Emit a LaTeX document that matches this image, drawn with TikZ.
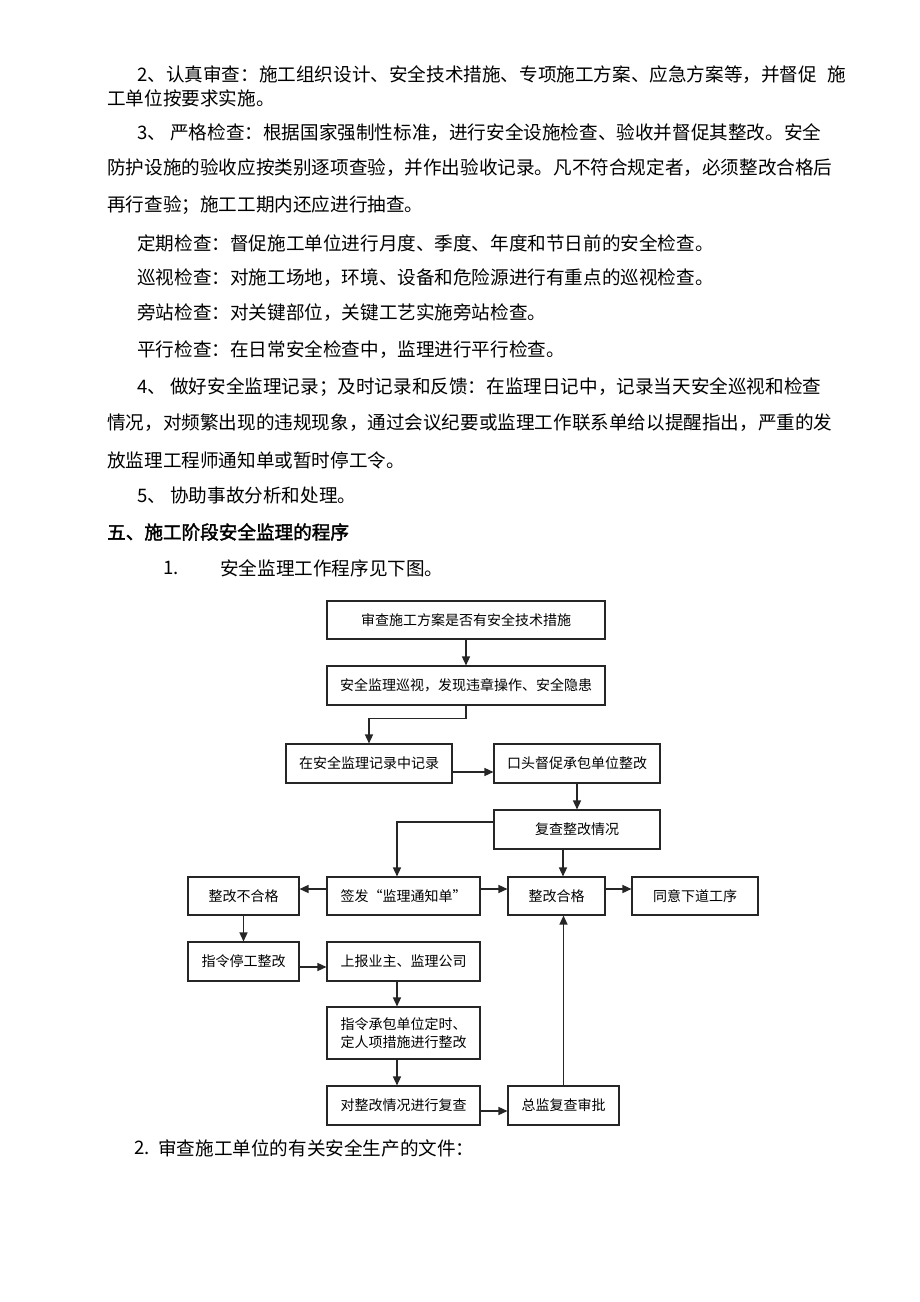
\documentclass[tikz,border=0pt]{standalone}
\usepackage{fontspec}
\setmainfont{Noto Sans CJK SC}[AutoFakeBold=2]
\usetikzlibrary{arrows.meta}
\XeTeXlinebreaklocale "zh"
\XeTeXlinebreakskip=0pt plus 2pt
\begin{document}
\begin{tikzpicture}[x=1pt,y=-1pt,
  bx/.style={draw=black!85, line width=1.1pt, inner sep=0pt, font=\fontsize{14}{18.3}\selectfont, align=center},
  arr/.style={draw=black!85, line width=1.4pt, -{Triangle[length=9pt,width=8pt]}},
  ln/.style={anchor=west, inner sep=0pt, font=\fontsize{18.6}{22}\selectfont}]
\useasboundingbox (0,0) rectangle (920,1302);
\fill[white] (0,0) rectangle (920,1302);

% body text
\node[ln] (t1) at (137,75) {\hbox to 709pt{2、认真审查：施工组织设计、安全技术措施、专项施工方案、应急方案等，并督促 施}};
\node[ln] (t2) at (107,98) {工单位按要求实施。};
\node[ln] (t3) at (137,133) {3、 严格检查：根据国家强制性标准，进行安全设施检查、验收并督促其整改。安全};
\node[ln] (t4) at (107,168) {防护设施的验收应按类别逐项查验，并作出验收记录。凡不符合规定者，必须整改合格后};
\node[ln] (t5) at (107,205) {再行查验；施工工期内还应进行抽查。};
\node[ln] (t6) at (137,243) {定期检查：督促施工单位进行月度、季度、年度和节日前的安全检查。};
\node[ln] (t7) at (137,278) {巡视检查：对施工场地，环境、设备和危险源进行有重点的巡视检查。};
\node[ln] (t8) at (137,313) {旁站检查：对关键部位，关键工艺实施旁站检查。};
\node[ln] (t9) at (137,350) {平行检查：在日常安全检查中，监理进行平行检查。};
\node[ln] (t10) at (137,387) {4、 做好安全监理记录；及时记录和反馈：在监理日记中，记录当天安全巡视和检查};
\node[ln] (t11) at (107,423) {情况，对频繁出现的违规现象，通过会议纪要或监理工作联系单给以提醒指出，严重的发};
\node[ln] (t12) at (107,460) {放监理工程师通知单或暂时停工令。};
\node[ln] (t13) at (137,495) {5、 协助事故分析和处理。};
\node[ln] (t14) at (107,532) {\bfseries 五、施工阶段安全监理的程序};
\node[ln] (t15a) at (163,568) {1.};
\node[ln] (t15b) at (220,568) {安全监理工作程序见下图。};
\node[ln] (t16a) at (134,1148) {2.};
\node[ln] (t16b) at (158,1148) {审查施工单位的有关安全生产的文件：};

% flowchart boxes
\node[bx, minimum width=278pt, minimum height=38pt] (b1) at (466,620) {审查施工方案是否有安全技术措施};
\node[bx, minimum width=278pt, minimum height=39pt] (b2) at (466,685.5) {安全监理巡视，发现违章操作、安全隐患};
\node[bx, minimum width=166pt, minimum height=39pt] (b3) at (369,763.5) {在安全监理记录中记录};
\node[bx, minimum width=166pt, minimum height=39pt] (b4) at (577,763.5) {口头督促承包单位整改};
\node[bx, minimum width=166pt, minimum height=39pt] (b5) at (577,829.5) {复查整改情况};
\node[bx, minimum width=111pt, minimum height=38pt] (b6) at (243.5,896) {整改不合格};
\node[bx, minimum width=153pt, minimum height=38pt] (b7) at (403.5,896) {签发“监理通知单”};
\node[bx, minimum width=97pt, minimum height=38pt] (b8) at (556.5,896) {整改合格};
\node[bx, minimum width=126pt, minimum height=38pt] (b9) at (695,896) {同意下道工序};
\node[bx, minimum width=111pt, minimum height=39pt] (b10) at (243.5,961.5) {指令停工整改};
\node[bx, minimum width=153pt, minimum height=39pt] (b11) at (403.5,961.5) {上报业主、监理公司};
\node[bx, minimum width=153pt, minimum height=52pt] (b12) at (403.5,1033) {指令承包单位定时、\\定人项措施进行整改};
\node[bx, minimum width=153pt, minimum height=39pt] (b13) at (403.5,1105.5) {对整改情况进行复查};
\node[bx, minimum width=111pt, minimum height=39pt] (b14) at (563.5,1105.5) {总监复查审批};

% connectors
\draw[arr] (b1.south) -- (b2.north);
\draw[arr] (b2.south) -- ++(0,13) -| (b3.north);
\draw[arr] ([yshift=-8.5pt]b3.east) -- ([yshift=-8.5pt]b3.east -| b4.west);
\draw[arr] (b4.south) -- (b5.north);
\draw[arr] ([yshift=7.5pt]b5.west) -| ([xshift=-6.5pt]b7.north);
\draw[arr] ([xshift=-14pt]b5.south) -- ([xshift=-14pt]b5.south |- b8.north);
\draw[arr] ([yshift=7pt]b7.west) -- ([yshift=7pt]b6.east);
\draw[arr] ([yshift=7pt]b7.east) -- ([yshift=7pt]b8.west);
\draw[arr] ([yshift=7pt]b8.east) -- ([yshift=7pt]b9.west);
\draw[arr] (b6.south) -- (b10.north);
\draw[arr] ([yshift=-5.5pt]b10.east) -- ([yshift=-5.5pt]b11.west);
\draw[arr] ([xshift=-6.5pt]b11.south) -- ([xshift=-6.5pt]b12.north);
\draw[arr] ([xshift=-6.5pt]b12.south) -- ([xshift=-6.5pt]b13.north);
\draw[arr] ([yshift=-5.5pt]b13.east) -- ([yshift=-5.5pt]b14.west);
\draw[arr] (b14.north) -- (b14.north |- b8.south);
\end{tikzpicture}
\end{document}
